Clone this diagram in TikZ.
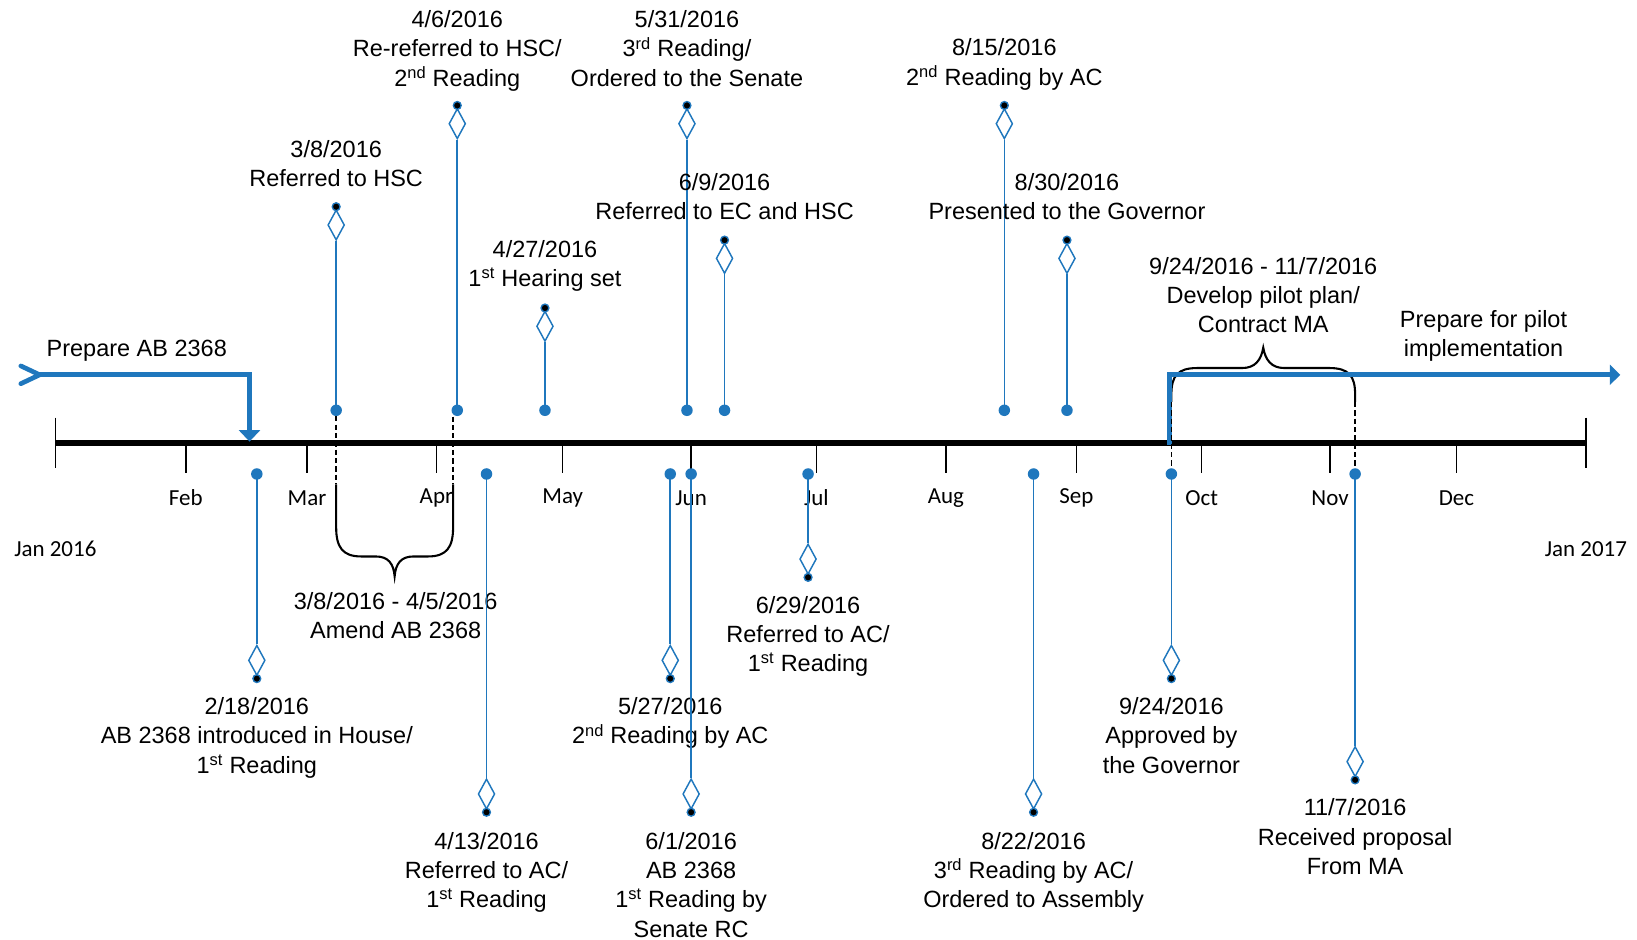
\documentclass[tikz,border=0pt]{standalone}
\usepackage{fontspec}
\setmainfont{Liberation Sans}
\newfontfamily\calib{Carlito}
\usetikzlibrary{shapes.geometric,arrows.meta}
\definecolor{tlblue}{RGB}{31,119,189}

\newcommand\evup[5]{%
  \node[bigdot] (b#1) at (#2,393) {};
  \node[dia] (d#1) at (#2,#3+17.5) {};
  \draw[stem] (d#1.south) -- (b#1.center);
  \node[smalldot] (t#1) at (#2,#3) {};
  \node[lbl] (l#1) at (#2,#4-8) {#5};
}
\newcommand\evdn[5]{%
  \node[bigdot] (b#1) at (#2,454) {};
  \node[dia] (d#1) at (#2,#3-17.5) {};
  \draw[stem] (b#1.center) -- (d#1.north);
  \node[smalldot] (t#1) at (#2,#3) {};
  \node[lbl] (l#1) at (#2,#4-8) {#5};
}

\begin{document}
\begin{tikzpicture}[x=1pt,y=-1pt,
  lbl/.style={align=center,inner sep=0pt,anchor=north,font=\fontsize{22.5}{28}\selectfont},
  mon/.style={inner sep=0pt,font=\calib\fontsize{22}{26}\selectfont},
  bigdot/.style={circle,fill=tlblue,inner sep=0pt,minimum size=11pt},
  smalldot/.style={circle,fill=black,draw=tlblue,line width=1.3pt,inner sep=0pt,minimum size=7.5pt},
  dia/.style={diamond,draw=tlblue,line width=1.4pt,fill=white,inner sep=0pt,minimum width=16pt,minimum height=29pt},
  stem/.style={draw=tlblue,line width=1.5pt},
  axis/.style={line width=5.5pt},
  tick/.style={line width=1.4pt},
  bluearrow/.style={draw=tlblue,line width=4.5pt},
  bracepath/.style={line width=2pt},
  dashline/.style={line width=1.3pt,dash pattern=on 5pt off 3pt}
]
\useasboundingbox (0,0) rectangle (1568,900);

% timeline
\coordinate (t0) at (53,424);
\coordinate (t1) at (1519,424);
\draw[axis] (t0) -- (t1);
\draw[tick] (53,400) -- (53,448);
\draw[tick] (1519,400) -- (1519,448);
\foreach \xx/\mm in {178/Feb,294/Mar,418/Apr,539/May,662/Jun,782/Jul,906/Aug,1031/Sep,1151/Oct,1274/Nov,1395/Dec}{
  \draw[tick] (\xx,424) -- (\xx,453);
  \node[mon] (m\mm) at (\xx,477) {\mm};
}
\node[mon] (jan16) at (53,526) {Jan 2016};
\node[mon] (jan17) at (1519,526) {Jan 2017};

% braces
\draw[bracepath] (322,464) -- (322,505) .. controls (322,524) and (328,533) .. (346,533)
  -- (360,533) .. controls (372,533) and (377,540) .. (378,552)
  .. controls (379,540) and (384,533) .. (396,533) -- (410,533)
  .. controls (428,533) and (434,524) .. (434,505) -- (434,464);
\draw[bracepath] (1122,385) -- (1122,378) .. controls (1122,360) and (1128,352.5) .. (1147,352.5)
  -- (1190,352.5) .. controls (1202,352.5) and (1208,345) .. (1210,333)
  .. controls (1212,345) and (1218,352.5) .. (1230,352.5) -- (1273,352.5)
  .. controls (1292,352.5) and (1298,360) .. (1298,378) -- (1298,385);

% blue process arrows
\coordinate (pa0) at (38,359);
\coordinate (pa1) at (239,359);
\coordinate (pa2) at (239,423);
\draw[bluearrow,line join=miter,-{Triangle[length=11pt,width=20pt]}] (pa0) -- (pa1) -- (pa2);
\draw[bluearrow,line cap=round,line join=round] ([shift={(-18,-8.5)}]pa0) -- (pa0) -- ([shift={(-18,8.5)}]pa0);
\coordinate (pb0) at (1120,426);
\coordinate (pb1) at (1120,359);
\coordinate (pb2) at (1552,359);
\draw[bluearrow,line join=miter,-{Triangle[length=10pt,width=19pt]}] (pb0) -- (pb1) -- (pb2);
\node[lbl] (prepA) at (131,334-8) {Prepare AB 2368};
\node[lbl] (prepP) at (1421,305-8) {Prepare for pilot\\implementation};
\node[lbl] (devel) at (1210,254-8) {9/24/2016 - 11/7/2016\\Develop pilot plan/\\Contract MA};
\node[lbl] (amend) at (379,575-8) {3/8/2016 - 4/5/2016\\Amend AB 2368};

% events above
\evup{a}{322}{198}{142}{3/8/2016\\Referred to HSC}
\evup{b}{438}{101}{18}{4/6/2016\\Re-referred to HSC/\\2\textsuperscript{nd} Reading}
\evup{c}{522}{295}{238}{4/27/2016\\1\textsuperscript{st} Hearing set}
\evup{d}{658}{101}{18}{5/31/2016\\3\textsuperscript{rd} Reading/\\Ordered to the Senate}
\evup{e}{694}{230}{174}{6/9/2016\\Referred to EC and HSC}
\evup{f}{962}{101}{45}{8/15/2016\\2\textsuperscript{nd} Reading by AC}
\evup{g}{1022}{230}{174}{8/30/2016\\Presented to the Governor}

% events below
\evdn{h}{246}{650}{676}{2/18/2016\\AB 2368 introduced in House/\\1\textsuperscript{st} Reading}
\evdn{i}{466}{778}{805}{4/13/2016\\Referred to AC/\\1\textsuperscript{st} Reading}
\evdn{j}{642}{650}{676}{5/27/2016\\2\textsuperscript{nd} Reading by AC}
\evdn{k}{662}{778}{805}{6/1/2016\\AB 2368\\1\textsuperscript{st} Reading by\\Senate RC}
\evdn{l}{774}{553}{579}{6/29/2016\\Referred to AC/\\1\textsuperscript{st} Reading}
\evdn{m}{990}{778}{805}{8/22/2016\\3\textsuperscript{rd} Reading by AC/\\Ordered to Assembly}
\evdn{n}{1122}{650}{676}{9/24/2016\\Approved by\\the Governor}
\evdn{o}{1298}{747}{773}{11/7/2016\\Received proposal\\From MA}

% dashed guides
\draw[dashline] (ba.south) -- (322,464);
\coordinate (apr0) at (434,399);
\draw[dashline] (apr0) -- (434,464);
\draw[dashline] (1122,385) -- (bn.north);
\draw[dashline] (1298,385) -- (bo.north);
\end{tikzpicture}
\end{document}
